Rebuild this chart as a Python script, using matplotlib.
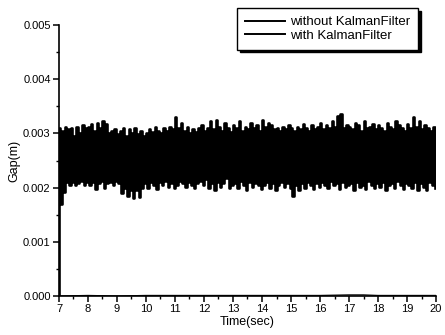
import numpy as np
import matplotlib
matplotlib.use("Agg")
import matplotlib.pyplot as plt
from matplotlib.ticker import MultipleLocator, FormatStrFormatter

plt.rcParams['font.family'] = ['Liberation Sans Narrow', 'Liberation Sans', 'DejaVu Sans']

# upper peaks of the "without Kalman filter" signal, one per 0.1 s from 7.0 s (x 1e-3 m)
gap_hi = [
    3.10, 3.05, 3.12, 3.08, 3.10, 2.95, 3.12, 3.00, 3.15, 3.10,
    3.12, 3.18, 3.05, 3.20, 3.10, 3.22, 3.18, 3.00, 3.05, 3.08,
    2.98, 3.05, 3.10, 2.95, 3.08, 3.00, 3.10, 2.98, 3.05, 2.95,
    3.00, 3.08, 3.02, 3.12, 3.05, 3.00, 3.10, 3.05, 3.12, 3.08,
    3.30, 3.10, 3.20, 3.05, 3.12, 3.00, 3.08, 3.02, 3.10, 3.15,
    3.05, 3.10, 3.22, 3.08, 3.25, 3.12, 3.05, 3.20, 3.10, 3.02,
    3.15, 3.10, 3.22, 3.05, 3.12, 3.08, 3.20, 3.10, 3.15, 3.05,
    3.25, 3.12, 3.20, 3.15, 3.08, 3.10, 3.05, 3.12, 3.08, 3.15,
    3.10, 3.05, 3.12, 3.08, 3.18, 3.10, 3.05, 3.15, 3.08, 3.12,
    3.20, 3.08, 3.15, 3.10, 3.22, 3.12, 3.32, 3.35, 3.10, 3.15,
    3.12, 3.08, 3.20, 3.15, 3.05, 3.22, 3.10, 3.12, 3.18, 3.08,
    3.15, 3.10, 3.05, 3.20, 3.12, 3.08, 3.22, 3.15, 3.10, 3.05,
    3.18, 3.10, 3.30, 3.12, 3.22, 3.08, 3.15, 3.10, 3.05, 3.12,
]
# lower troughs, one per 0.1 s, offset by 0.05 s (x 1e-3 m)
gap_lo = [
    1.70, 1.92, 2.10, 2.05, 2.10, 2.05, 2.08, 2.12, 2.05, 2.10,
    2.05, 2.10, 1.98, 2.08, 2.12, 2.00, 2.08, 2.10, 2.05, 2.12,
    2.08, 1.90, 2.00, 1.85, 1.95, 1.80, 1.95, 1.82, 2.00, 2.08,
    2.00, 2.10, 2.05, 1.98, 2.10, 2.05, 2.12, 2.02, 2.08, 2.00,
    2.05, 2.12, 2.08, 2.02, 2.10, 2.05, 2.00, 2.08, 2.12, 2.05,
    2.15, 2.00, 2.08, 1.95, 2.10, 2.02, 2.08, 2.18, 2.00, 2.05,
    2.08, 2.00, 2.12, 2.05, 1.95, 2.10, 2.02, 2.08, 2.05, 1.98,
    2.05, 2.10, 2.00, 2.08, 1.95, 2.05, 2.10, 2.02, 2.08, 2.00,
    1.85, 2.05, 1.95, 2.08, 2.00, 2.10, 2.05, 1.98, 2.08, 2.02,
    2.10, 2.05, 2.00, 2.12, 2.05, 2.08, 1.98, 2.10, 2.02, 2.05,
    2.08, 1.95, 2.10, 2.02, 2.05, 1.98, 2.12, 2.05, 2.00, 2.08,
    2.02, 2.10, 1.95, 2.05, 2.08, 2.00, 2.12, 2.05, 1.98, 2.08,
    2.05, 2.00, 2.10, 1.95, 2.08, 2.02, 1.95, 2.10, 2.05, 2.00,
]
start_time = 7.0
start_gap = 0.0
# "with Kalman filter" trace, hugging the zero line
kalman_t = [7, 8, 9, 10, 11, 12, 13, 14, 15, 16, 17, 17.5, 18, 19, 20]
kalman_gap = [0.0, 0.00001, 0.0, 0.00001, 0.00001, 0.00001, 0.00001,
              0.00001, 0.00001, 0.00001, 0.00002, 0.00002, 0.00001, 0.00001, 0.00001]

hi = np.array(gap_hi) * 1e-3
lo = np.array(gap_lo) * 1e-3
n = len(hi)
t_hi = start_time + 0.1 * np.arange(n) + 0.025
t_lo = t_hi + 0.05
t = np.empty(2 * n); y = np.empty(2 * n)
t[0::2] = t_hi; t[1::2] = t_lo
y[0::2] = hi; y[1::2] = lo
t = np.concatenate([[start_time], t])
y = np.concatenate([[start_gap], y])

fig = plt.figure(figsize=(4.45, 3.35), dpi=100)
ax = fig.add_axes([59/445, 1-296/335, (436-59)/445, (296-25)/335])
ax.plot(t, y, color='black', lw=1.9, drawstyle='steps-mid', label='without KalmanFilter')
ax.plot(kalman_t, kalman_gap, color='black', lw=0.9, label='with KalmanFilter')

ax.set_xlim(7, 20)
ax.set_ylim(0, 0.005)
ax.xaxis.set_major_locator(MultipleLocator(1))
ax.xaxis.set_minor_locator(MultipleLocator(0.5))
ax.yaxis.set_major_locator(MultipleLocator(0.001))
ax.yaxis.set_minor_locator(MultipleLocator(0.0005))
ax.yaxis.set_major_formatter(FormatStrFormatter('%.3f'))
for s in ['top', 'right']:
    ax.spines[s].set_visible(False)
for s in ['left', 'bottom']:
    ax.spines[s].set_linewidth(1.2)
ax.tick_params(which='major', direction='out', length=4, width=1.1, labelsize=8, pad=2)
ax.tick_params(which='minor', direction='out', length=2, width=1.0)
ax.set_xlabel('Time(sec)', fontsize=9, labelpad=1)
ax.set_ylabel('Gap(m)', fontsize=9, labelpad=2)

leg = ax.legend(loc='upper right', bbox_to_anchor=(418/445, 1-8/335),
                bbox_transform=fig.transFigure, fontsize=9.5, frameon=True,
                fancybox=False, shadow={'color': 'black', 'alpha': 1.0},
                handlelength=3.0, labelspacing=0.1, borderpad=0.6,
                handletextpad=0.4, borderaxespad=0)
for h in leg.get_lines():
    h.set_linewidth(1.4)
leg.get_frame().set_edgecolor('black')
leg.get_frame().set_linewidth(1.0)

fig.savefig('out.png', dpi=100)
